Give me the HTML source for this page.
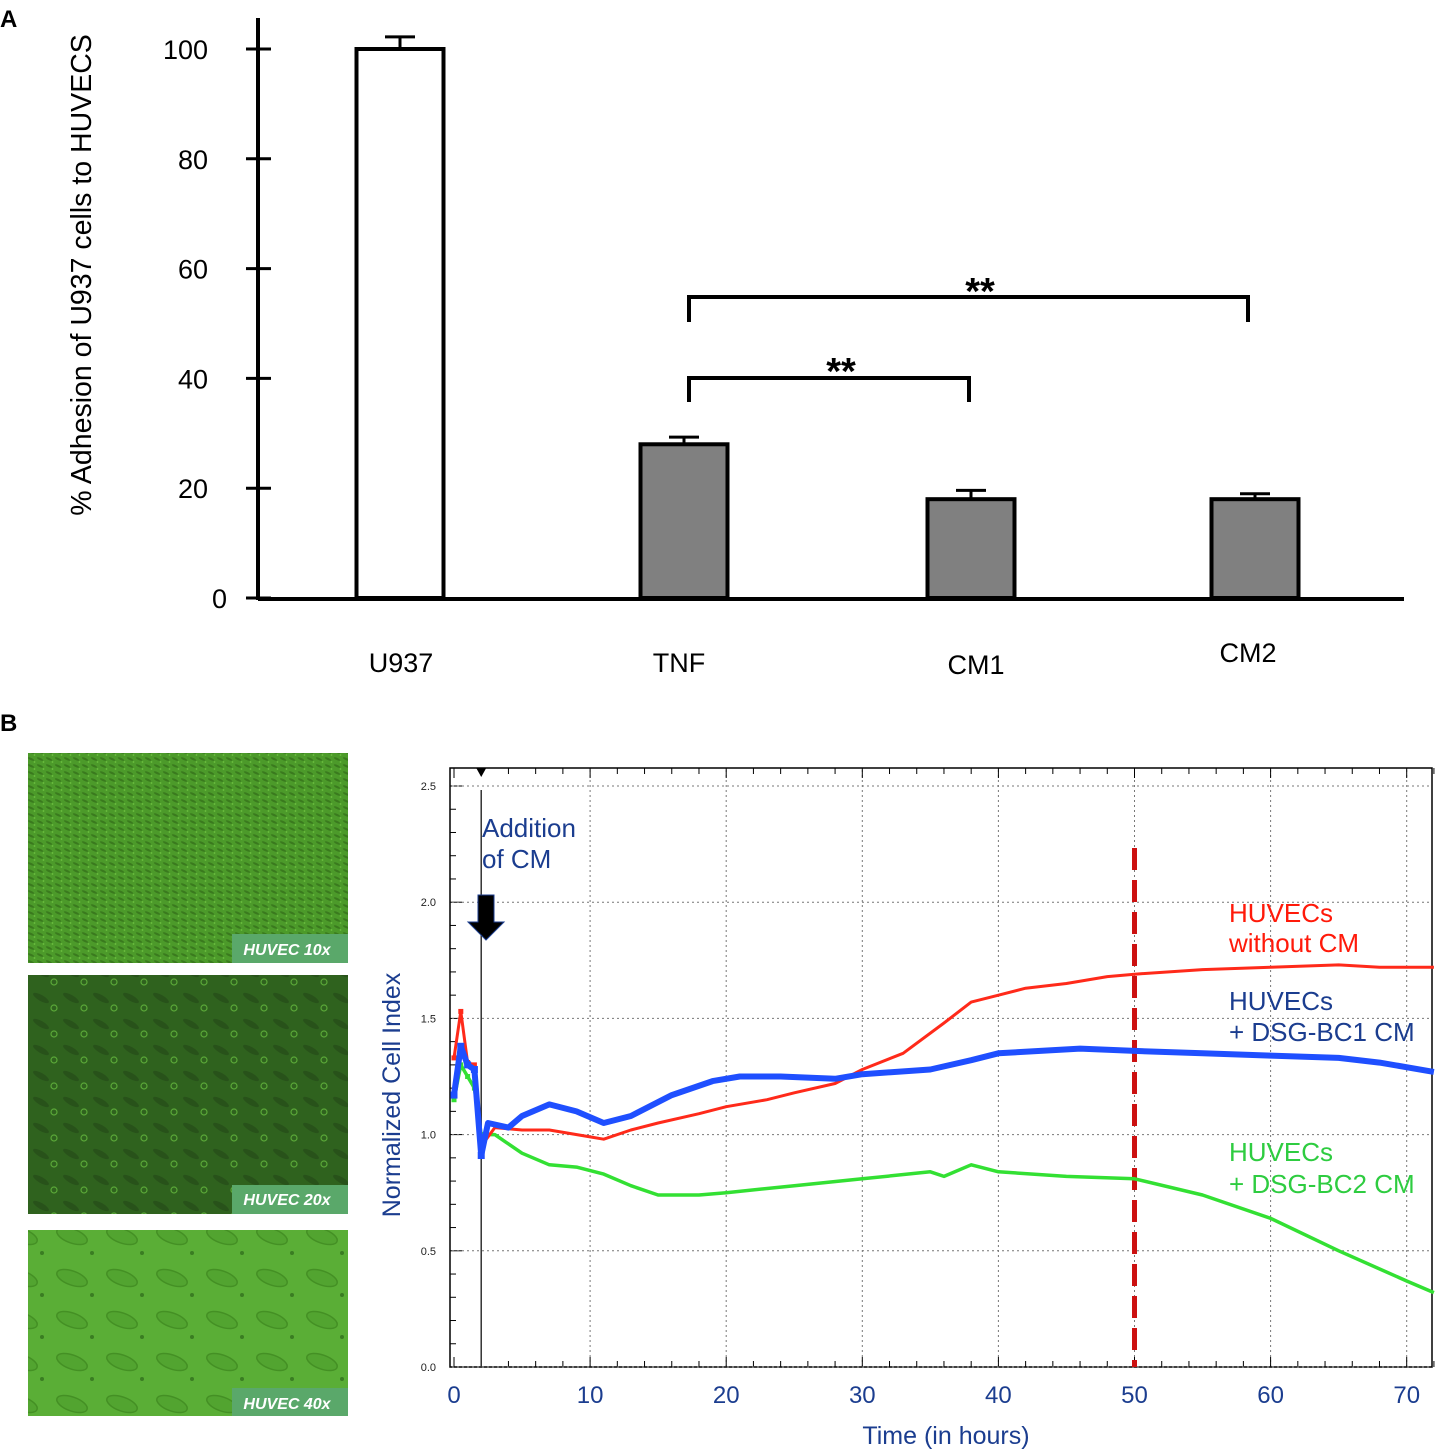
<!DOCTYPE html>
<html><head><meta charset="utf-8"><style>
html,body{margin:0;padding:0;background:#fff;}
svg{display:block;font-family:"Liberation Sans",Arial,sans-serif;}
</style></head><body>
<svg id="fig" width="1440" height="1455" viewBox="0 0 1440 1455" xmlns="http://www.w3.org/2000/svg">
<defs>
<pattern id="cells1" width="9" height="7" patternUnits="userSpaceOnUse"><rect width="9" height="7" fill="#4c9a2a"/><ellipse cx="4" cy="3" rx="3.5" ry="1.1" fill="#3a7a1e" transform="rotate(25 4 3)"/><circle cx="7.5" cy="6" r="0.9" fill="#6cc040"/></pattern>
<pattern id="cells2" width="30" height="26" patternUnits="userSpaceOnUse"><rect width="30" height="26" fill="#2f621e"/><ellipse cx="11" cy="10" rx="9" ry="3" fill="#28521a" transform="rotate(30 11 10)"/><circle cx="24" cy="20" r="3" fill="none" stroke="#5aa838" stroke-width="1.2"/></pattern>
<pattern id="cells3" width="50" height="42" patternUnits="userSpaceOnUse"><rect width="50" height="42" fill="#5aae36"/><ellipse cx="22" cy="18" rx="16" ry="7" fill="#52a430" stroke="#449024" stroke-width="1.5" transform="rotate(20 22 18)"/><circle cx="42" cy="35" r="2" fill="#3a7d22"/></pattern>
</defs>
<text x="0" y="27" font-size="24" font-weight="bold">A</text>
<text x="0" y="731" font-size="24" font-weight="bold">B</text>
<g id="chartA"></g>
<g>
<rect x="28" y="753" width="320" height="210" fill="url(#cells1)"/>
<rect x="232" y="934" width="116" height="29" fill="#5aa86a"/>
<text x="287" y="955" font-size="16" font-style="italic" font-weight="bold" fill="#fff" text-anchor="middle">HUVEC 10x</text>
<rect x="28" y="975" width="320" height="239" fill="url(#cells2)"/>
<rect x="232" y="1185" width="116" height="29" fill="#5aa86a"/>
<text x="287" y="1205" font-size="16" font-style="italic" font-weight="bold" fill="#fff" text-anchor="middle">HUVEC 20x</text>
<rect x="28" y="1230" width="320" height="186" fill="url(#cells3)"/>
<rect x="232" y="1388" width="116" height="28" fill="#5aa86a"/>
<text x="287" y="1409" font-size="16" font-style="italic" font-weight="bold" fill="#fff" text-anchor="middle">HUVEC 40x</text>
</g>
<g id="chartB"></g>
</svg>
<script>
// ---- Chart A data ----
const catsA = ["U937","TNF","CM1","CM2"];
const valsA = [100, 28, 18, 18];
const errA = [2.2, 1.3, 1.6, 1.0];
const yTicksA = [0,20,40,60,80,100];
// ---- Chart B data ----
const timesRed = [0,0.5,1,1.5,2,3,5,7,10,11,13,15,18,20,23,25,28,30,33,36,38,40,42,45,48,50,55,60,65,68,72];
const valsRed = [1.33,1.53,1.31,1.3,0.95,1.03,1.02,1.02,0.99,0.98,1.02,1.05,1.09,1.12,1.15,1.18,1.22,1.28,1.35,1.48,1.57,1.6,1.63,1.65,1.68,1.69,1.71,1.72,1.73,1.72,1.72];
const timesBlue = [0,0.5,1,1.5,2,2.5,4,5,7,9,11,13,16,19,21,24,28,30,35,38,40,46,50,55,60,65,68,72];
const valsBlue = [1.17,1.38,1.3,1.28,0.91,1.05,1.03,1.08,1.13,1.1,1.05,1.08,1.17,1.23,1.25,1.25,1.24,1.26,1.28,1.32,1.35,1.37,1.36,1.35,1.34,1.33,1.31,1.27];
const timesGreen = [0,0.5,1,1.5,2,3,5,7,9,11,13,15,18,20,25,30,35,36,38,40,45,50,55,60,65,70,72];
const valsGreen = [1.15,1.3,1.25,1.2,1.0,1.0,0.92,0.87,0.86,0.83,0.78,0.74,0.74,0.75,0.78,0.81,0.84,0.82,0.87,0.84,0.82,0.81,0.74,0.64,0.5,0.37,0.32];
const xTicksB = [0,10,20,30,40,50,60,70];
const yTicksB = ["0.0","0.5","1.0","1.5","2.0","2.5"];

const NS="http://www.w3.org/2000/svg";
function mk(parent,tag,attrs,text){const e=document.createElementNS(NS,tag);for(const k in attrs)e.setAttribute(k,attrs[k]);if(text!==undefined)e.textContent=text;parent.appendChild(e);return e;}

// ---- Chart A ----
const gA=document.getElementById('chartA');
const yA=v=>598-v*5.49;
const barX=[400,684,971,1255];
const barW=87;
mk(gA,'line',{x1:258,y1:18,x2:258,y2:600,stroke:'#000','stroke-width':4});
mk(gA,'line',{x1:258,y1:599,x2:1404,y2:599,stroke:'#000','stroke-width':4});
yTicksA.forEach(t=>{
  const tl=mk(gA,'line',{x1:246,y1:yA(t),x2:271,y2:yA(t),stroke:'#000','stroke-width':3});
  
  
  const lb=mk(gA,'text',{x:t==0?227:208,y:yA(t)+10,'font-size':27,'text-anchor':'end'},t);
  
  
});
const yl=mk(gA,'text',{x:0,y:0,'font-size':28.5,'text-anchor':'middle',transform:'translate(91,275) rotate(-90)'},'% Adhesion of U937 cells to HUVECS');


catsA.forEach((c,i)=>{
  const cx=barX[i];
  const b=mk(gA,'rect',{x:cx-barW/2,y:yA(valsA[i]),width:barW,height:598-yA(valsA[i]),fill:i==0?'#fff':'#808080',stroke:'#000','stroke-width':4});
  
  
  const top=yA(valsA[i]+errA[i]);
  const e=mk(gA,'path',{d:`M${cx},${yA(valsA[i])} V${top} M${cx-15},${top} H${cx+15}`,stroke:'#000','stroke-width':3,fill:'none'});
  
  
  const lx=[401,679,976,1248][i];
  const ly=[662,662,664,652][i];
  const t=mk(gA,'text',{x:lx,y:ly+10,'font-size':27,'text-anchor':'middle'},c);
  
  
});
const br1=mk(gA,'path',{d:'M689,322 V297 H1248 V322',stroke:'#000','stroke-width':4,fill:'none'});


const s1=mk(gA,'text',{x:980,y:304,'font-size':38,'font-weight':'bold','text-anchor':'middle'},'**');


const br2=mk(gA,'path',{d:'M689,402 V378 H969 V402',stroke:'#000','stroke-width':4,fill:'none'});


const s2=mk(gA,'text',{x:841,y:384,'font-size':38,'font-weight':'bold','text-anchor':'middle'},'**');



// ---- Chart B ----
const gB=document.getElementById('chartB');
const xB=t=>454+t*13.61;
const yB=v=>1367-v*232.4;
mk(gB,'rect',{x:450,y:768,width:982,height:599,fill:'#fff',stroke:'#000','stroke-width':1.5});
xTicksB.forEach(t=>{
  if(t>0){const g=mk(gB,'line',{x1:xB(t),y1:770,x2:xB(t),y2:1367,stroke:'#777','stroke-width':1,'stroke-dasharray':'2,3'});
  
  }
  const l=mk(gB,'text',{x:xB(t),y:1403,'font-size':24,fill:'#1b3d8f','text-anchor':'middle'},t);
  
  
});
for(let t=0;t<=72;t+=2){mk(gB,'line',{x1:xB(t),y1:768,x2:xB(t),y2:(t%10==0?778:774),stroke:'#000','stroke-width':1});mk(gB,'line',{x1:xB(t),y1:1367,x2:xB(t),y2:(t%10==0?1357:1361),stroke:'#000','stroke-width':1});}
for(let v=0;v<=2.55;v+=0.1){const w=Math.abs(v*2-Math.round(v*2))<0.01?12:6;mk(gB,'line',{x1:450,y1:yB(v),x2:450+w,y2:yB(v),stroke:'#000','stroke-width':1});}
yTicksB.forEach(s=>{
  const v=parseFloat(s);
  const g=mk(gB,'line',{x1:452,y1:yB(v),x2:1432,y2:yB(v),stroke:'#777','stroke-width':1,'stroke-dasharray':'2,3'});
  
  
  const l=mk(gB,'text',{x:436,y:yB(v)+4,'font-size':11,'text-anchor':'end',fill:'#222'},s);
  
  
});
const ylB=mk(gB,'text',{x:0,y:0,'font-size':25,fill:'#1b3d8f','text-anchor':'middle',transform:'translate(400,1095) rotate(-90)'},'Normalized Cell Index');


const xlB=mk(gB,'text',{x:946,y:1444,'font-size':25,fill:'#1b3d8f','text-anchor':'middle'},'Time (in hours)');


const al=mk(gB,'line',{x1:xB(2),y1:790,x2:xB(2),y2:1367,stroke:'#333','stroke-width':1.5});


mk(gB,'path',{d:`M${xB(2)-5},768 L${xB(2)+5},768 L${xB(2)},777 Z`,fill:'#000'});
const ar=mk(gB,'path',{d:'M478,895 H494 V922 H504 L486,940 L468,922 H478 Z',fill:'#000',stroke:'#1b3d8f','stroke-width':1});


const at=mk(gB,'text',{x:482,y:837,'font-size':26,fill:'#1b3d8f'},'Addition');


mk(gB,'text',{x:482,y:868,'font-size':26,fill:'#1b3d8f'},'of CM');
const rd=mk(gB,'line',{x1:xB(50),y1:848,x2:xB(50),y2:1367,stroke:'#cc1111','stroke-width':5,'stroke-dasharray':'22,10'});


function series(ts,vs,color,w,name,ms){
  const d=ts.map((t,i)=>(i?'L':'M')+xB(t).toFixed(1)+','+yB(vs[i]).toFixed(1)).join(' ');
  const p=mk(gB,'path',{d:d,stroke:color,'stroke-width':w,fill:'none','stroke-linejoin':'round'});
  
  
  ts.forEach((t,i)=>{if(i<5){const m=mk(gB,'rect',{x:xB(t)-ms/2,y:yB(vs[i])-ms/2,width:ms,height:ms,fill:color});
    
    }});
}
series(timesGreen,valsGreen,'#33e033',3.5,'series-huvec-dsg-bc2',5);
series(timesRed,valsRed,'#ff2a1a',3,'series-huvec-without-cm',5);
series(timesBlue,valsBlue,'#1f4fff',6,'series-huvec-dsg-bc1',7);
const lg=[["HUVECs",922,'#ff1a0a','legend-red'],["without CM",952,'#ff1a0a',''],["HUVECs",1010,'#1b3d8f','legend-blue'],["+ DSG-BC1 CM",1041,'#1b3d8f',''],["HUVECs",1161,'#2ecc40','legend-green'],["+ DSG-BC2 CM",1193,'#2ecc40','']];
lg.forEach(l=>{const t=mk(gB,'text',{x:1229,y:l[1],'font-size':26,fill:l[2]},l[0]);
  
  });
</script>
</body></html>
